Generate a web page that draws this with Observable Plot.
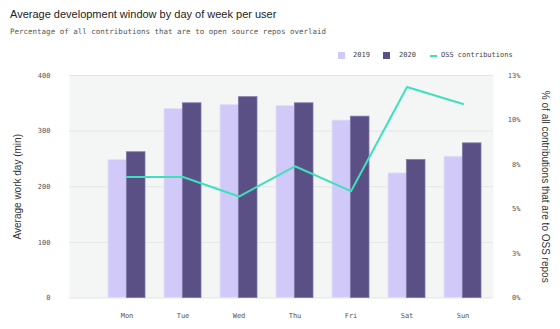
<!DOCTYPE html>
<html>
<head>
<meta charset="utf-8">
<script src="https://cdn.jsdelivr.net/npm/d3@7"></script>
<script src="https://cdn.jsdelivr.net/npm/@observablehq/plot@0.6"></script>
<style>
  html, body { margin: 0; padding: 0; background: #fff; }
  #wrap { position: relative; width: 560px; height: 329px; overflow: hidden; }
  #head { position: relative; height: 65px; }
  .title { position: absolute; left: 10px; top: 8px; font-family: "Liberation Sans", Arial, sans-serif; font-size: 11px; color: #222; white-space: nowrap; }
  .sub { position: absolute; left: 10px; top: 27px; font-family: "DejaVu Sans Mono", monospace; font-size: 7.5px; color: #555; white-space: nowrap; }
  .leg { position: absolute; top: 51px; font-family: "DejaVu Sans Mono", monospace; font-size: 7px; color: #444; white-space: nowrap; line-height: 9px; }
  .sw { position: absolute; top: 52px; width: 7px; height: 7px; }
  .ln { position: absolute; top: 54.5px; width: 7px; height: 2px; }
</style>
</head>
<body>
<div id="wrap">
  <div id="head">
    <div class="title">Average development window by day of week per user</div>
    <div class="sub">Percentage of all contributions that are to open source repos overlaid</div>
    <div class="sw" style="left:338px;background:#d1c9f7"></div>
    <div class="leg" style="left:353px">2019</div>
    <div class="sw" style="left:383px;background:#5b5086"></div>
    <div class="leg" style="left:399px">2020</div>
    <div class="ln" style="left:430px;background:#3ee0bd"></div>
    <div class="leg" style="left:441px">OSS contributions</div>
  </div>
  <div id="chart"></div>
</div>
<script>
const days = ["Mon", "Tue", "Wed", "Thu", "Fri", "Sat", "Sun"];
const minutes2019 = [248, 340, 347, 345, 319, 224, 254];
const minutes2020 = [262, 350, 361, 350, 326, 248, 278];
const ossPercent = [6.8, 6.8, 5.7, 7.4, 6.0, 11.85, 10.9];
const leftTicks = [0, 100, 200, 300, 400];
const rightTicksPct = [0, 2.5, 5, 7.5, 10, 12.5];

const pctScale = 400 / 12.5; // right axis 0–12.5% shares the 0–400 pixel range
const rows = days.map((d, i) => ({day: d, y2019: minutes2019[i], y2020: minutes2020[i], oss: ossPercent[i]}));

const bandRange = [107.3, 480.7];
const paddingInner = 0.346;
const bw = (bandRange[1] - bandRange[0]) / (days.length - paddingInner) * (1 - paddingInner);
const half = bw / 2;

const chart = Plot.plot({
  width: 560,
  height: 264,
  marginLeft: 69,
  marginRight: 67,
  marginTop: 10,
  marginBottom: 31.5,
  style: {background: "transparent", overflow: "visible"},
  x: {domain: days, range: bandRange, paddingInner, paddingOuter: 0, align: 0.5},
  y: {domain: [0, 400]},
  marks: [
    Plot.frame({fill: "#f4f6f5", stroke: null}),
    Plot.gridY(leftTicks, {stroke: "#e4e6e6", strokeOpacity: 1, strokeWidth: 1}),
    Plot.barY(rows, {x: "day", y: "y2019", fill: "#d1c9f7", stroke: "#e4e0fb", strokeWidth: 0.8, insetRight: half}),
    Plot.barY(rows, {x: "day", y: "y2020", fill: "#5b5086", stroke: "#7f77a8", strokeWidth: 0.8, insetLeft: half}),
    Plot.line(rows, {x: "day", y: d => d.oss * pctScale, stroke: "#3ee0bd", strokeWidth: 2}),
    Plot.axisY(leftTicks, {anchor: "left", tickSize: 0, tickPadding: 19, fontSize: 7, fontFamily: "DejaVu Sans Mono, monospace", fill: "#555", label: null}),
    Plot.axisY(rightTicksPct.map(p => p * pctScale), {anchor: "right", tickSize: 0, tickPadding: 0, dx: 27, textAnchor: "end",
      tickFormat: d => Math.round(d / pctScale) + "%", fontSize: 7, fontFamily: "DejaVu Sans Mono, monospace", fill: "#555", label: null}),
    Plot.axisX({tickSize: 0, tickPadding: 15, fontSize: 7, fontFamily: "DejaVu Sans Mono, monospace", fill: "#555", label: null}),
    Plot.text(["Average work day (min)"], {frameAnchor: "left", textAnchor: "middle", dx: -52, rotate: -90, fontSize: 10, fontFamily: "Liberation Sans, Arial, sans-serif", fill: "#333"}),
    Plot.text(["% of all contributions that are to OSS repos"], {frameAnchor: "right", textAnchor: "middle", dx: 52, rotate: 90, fontSize: 10, fontFamily: "Liberation Sans, Arial, sans-serif", fill: "#333"})
  ]
});
document.getElementById("chart").appendChild(chart);
</script>
</body>
</html>
